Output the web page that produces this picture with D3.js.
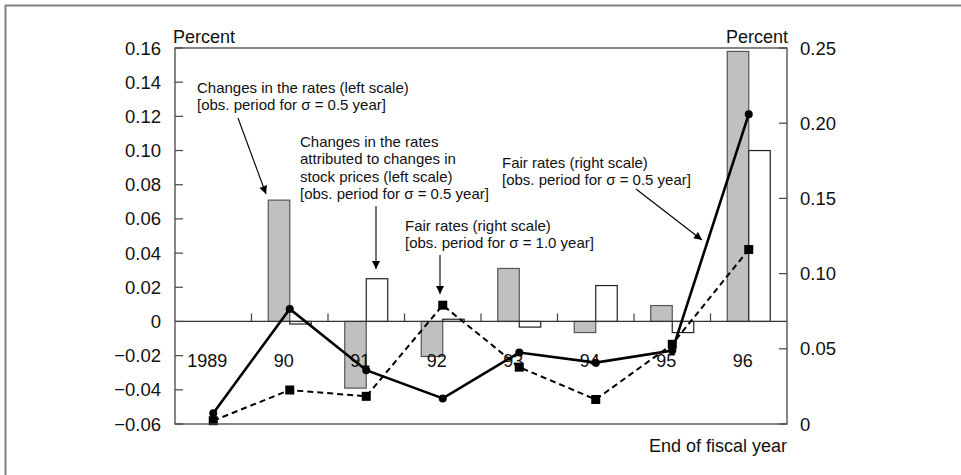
<!DOCTYPE html>
<html>
<head>
<meta charset="utf-8">
<script src="https://cdn.jsdelivr.net/npm/d3@7"></script>
<style>
  html, body { margin: 0; padding: 0; background: #fff; }
  svg { display: block; font-family: "Liberation Sans", Arial, Helvetica, sans-serif; }
</style>
</head>
<body>
<svg id="chart" width="961" height="475"></svg>
<script>
// ---- data ----
const years = ["1989", "90", "91", "92", "93", "94", "95", "96"];
// Changes in the rates (left scale), obs. period for sigma = 0.5 year
const rateChange = [null, 0.071, -0.039, -0.0205, 0.031, -0.0065, 0.0093, 0.158];
// Changes attributed to changes in stock prices (left scale)
const stockAttributed = [null, -0.0015, 0.025, 0.0013, -0.0033, 0.021, -0.0065, 0.100];
// Fair rates (right scale), sigma = 0.5 year
const fair05 = [0.0072, 0.0765, 0.0358, 0.0170, 0.0475, 0.0408, 0.0488, 0.206];
// Fair rates (right scale), sigma = 1.0 year
const fair10 = [0.0022, 0.0226, 0.0184, 0.0790, 0.0378, 0.0163, 0.0530, 0.1160];
const leftTicks = [-0.06, -0.04, -0.02, 0, 0.02, 0.04, 0.06, 0.08, 0.10, 0.12, 0.14, 0.16];
const leftTickLabels = ["\u22120.06", "\u22120.04", "\u22120.02", "0", "0.02", "0.04", "0.06", "0.08", "0.10", "0.12", "0.14", "0.16"];
const rightTicks = [0, 0.05, 0.10, 0.15, 0.20, 0.25];
const rightTickLabels = ["0", "0.05", "0.10", "0.15", "0.20", "0.25"];

// ---- layout ----
const svg = d3.select("#chart");
const L = 175, R = 787, T = 48, B = 424;

const x = d3.scaleBand().domain(years).range([L, R]).padding(0);
const yL = d3.scaleLinear().domain([-0.06, 0.16]).range([B, T]);
const yR = d3.scaleLinear().domain([0, 0.25]).range([B, T]);

// outer partial frame
svg.append("line").attr("x1", 5).attr("x2", 961).attr("y1", 5.5).attr("y2", 5.5)
  .attr("stroke", "#808080").attr("stroke-width", 2);
svg.append("line").attr("x1", 5.5).attr("x2", 5.5).attr("y1", 5).attr("y2", 475)
  .attr("stroke", "#808080").attr("stroke-width", 2);

const bw = 21.5;
const g = svg.append("g");

// gray bars
g.selectAll("rect.gray").data(years.map((yr, i) => ({yr, v: rateChange[i]})).filter(d => d.v !== null))
  .enter().append("rect").attr("class", "gray")
  .attr("x", d => x(d.yr) + x.bandwidth() / 2 - bw)
  .attr("width", bw)
  .attr("y", d => Math.min(yL(d.v), yL(0)))
  .attr("height", d => Math.abs(yL(d.v) - yL(0)))
  .attr("fill", "#c0c0c0").attr("stroke", "#555").attr("stroke-width", 1.2);

// white bars
g.selectAll("rect.white").data(years.map((yr, i) => ({yr, v: stockAttributed[i]})).filter(d => d.v !== null))
  .enter().append("rect").attr("class", "white")
  .attr("x", d => x(d.yr) + x.bandwidth() / 2)
  .attr("width", bw)
  .attr("y", d => Math.min(yL(d.v), yL(0)))
  .attr("height", d => Math.abs(yL(d.v) - yL(0)))
  .attr("fill", "#fff").attr("stroke", "#222").attr("stroke-width", 1.2);

// zero line
g.append("line").attr("x1", L).attr("x2", R).attr("y1", yL(0)).attr("y2", yL(0))
  .attr("stroke", "#333").attr("stroke-width", 1.3);
// x ticks on zero line (band boundaries)
const xb = years.slice(1).map(yr => x(yr));
g.selectAll("line.xt").data(xb).enter().append("line")
  .attr("x1", d => d).attr("x2", d => d)
  .attr("y1", yL(0)).attr("y2", yL(0) - 8)
  .attr("stroke", "#444").attr("stroke-width", 1.2);

// x labels
g.selectAll("text.xl").data(years).enter().append("text")
  .attr("x", d => x(d) + x.bandwidth() / 2 - 6)
  .attr("y", yL(-0.0255) - 4)
  .attr("text-anchor", "middle")
  .attr("dominant-baseline", "central")
  .attr("font-size", 18).attr("fill", "#111")
  .text(d => d);

// lines
const cx = yr => x(yr) + x.bandwidth() / 2;
const line05 = d3.line().x((d, i) => cx(years[i])).y(d => yR(d));
g.append("path").datum(fair10).attr("d", line05)
  .attr("fill", "none").attr("stroke", "#000").attr("stroke-width", 2).attr("stroke-dasharray", "6,4");
g.append("path").datum(fair05).attr("d", line05)
  .attr("fill", "none").attr("stroke", "#000").attr("stroke-width", 2.6);
g.selectAll("rect.sq").data(fair10).enter().append("rect")
  .attr("x", (d, i) => cx(years[i]) - 4.5).attr("y", d => yR(d) - 4.5)
  .attr("width", 9).attr("height", 9).attr("fill", "#000");
g.selectAll("circle.pt").data(fair05).enter().append("circle")
  .attr("cx", (d, i) => cx(years[i])).attr("cy", d => yR(d)).attr("r", 4).attr("fill", "#000");

// plot frame
g.append("rect").attr("x", L).attr("y", T).attr("width", R - L).attr("height", B - T)
  .attr("fill", "none").attr("stroke", "#444").attr("stroke-width", 1.3);

// left axis
g.selectAll("line.lt").data(leftTicks).enter().append("line")
  .attr("x1", L).attr("x2", L + 8).attr("y1", d => yL(d)).attr("y2", d => yL(d))
  .attr("stroke", "#444").attr("stroke-width", 1.2);
g.selectAll("text.ll").data(leftTicks).enter().append("text")
  .attr("x", L - 14).attr("y", d => yL(d)).attr("text-anchor", "end")
  .attr("dominant-baseline", "central").attr("font-size", 18.5).attr("fill", "#111")
  .text((d, i) => leftTickLabels[i]);

// right axis
g.selectAll("line.rt").data(rightTicks).enter().append("line")
  .attr("x1", R - 8).attr("x2", R).attr("y1", d => yR(d)).attr("y2", d => yR(d))
  .attr("stroke", "#444").attr("stroke-width", 1.2);
g.selectAll("text.rl").data(rightTicks).enter().append("text")
  .attr("x", R + 13).attr("y", d => yR(d)).attr("text-anchor", "start")
  .attr("dominant-baseline", "central").attr("font-size", 18.5).attr("fill", "#111")
  .text((d, i) => rightTickLabels[i]);

// axis titles
svg.append("text").attr("x", L - 2).attr("y", 43).attr("font-size", 18).attr("fill", "#111").text("Percent");
svg.append("text").attr("x", R + 1).attr("y", 43).attr("text-anchor", "end").attr("font-size", 18).attr("fill", "#111").text("Percent");
svg.append("text").attr("x", R).attr("y", 452).attr("text-anchor", "end").attr("font-size", 18).attr("fill", "#111").text("End of fiscal year");

// annotations
const defs = svg.append("defs");
defs.append("marker").attr("id", "ah").attr("viewBox", "0 0 10 10")
  .attr("refX", 10).attr("refY", 5).attr("markerWidth", 10).attr("markerHeight", 8)
  .attr("markerUnits", "userSpaceOnUse").attr("orient", "auto")
  .append("path").attr("d", "M0,0 L10,5 L0,10 Z").attr("fill", "#000");

function note(lines, x0, y0) {
  const t = svg.append("text").attr("font-size", 15).attr("fill", "#111");
  lines.forEach((s, i) => t.append("tspan").attr("x", x0).attr("y", y0 + i * 17.3).text(s));
}
note(["Changes in the rates (left scale)", "[obs. period for \u03c3 = 0.5 year]"], 197, 93);
note(["Changes in the rates", "attributed to changes in", "stock prices (left scale)", "[obs. period for \u03c3 = 0.5 year]"], 300, 147);
note(["Fair rates (right scale)", "[obs. period for \u03c3 = 1.0 year]"], 405, 231);
note(["Fair rates (right scale)", "[obs. period for \u03c3 = 0.5 year]"], 502, 168);

function arrow(x1, y1, x2, y2) {
  svg.append("line").attr("x1", x1).attr("y1", y1).attr("x2", x2).attr("y2", y2)
    .attr("stroke", "#000").attr("stroke-width", 1.1).attr("marker-end", "url(#ah)");
}
arrow(238, 118, 266, 194);
arrow(376, 206, 376, 269);
arrow(440, 255, 440, 294);
arrow(636, 189, 702, 240);
</script>
</body>
</html>
